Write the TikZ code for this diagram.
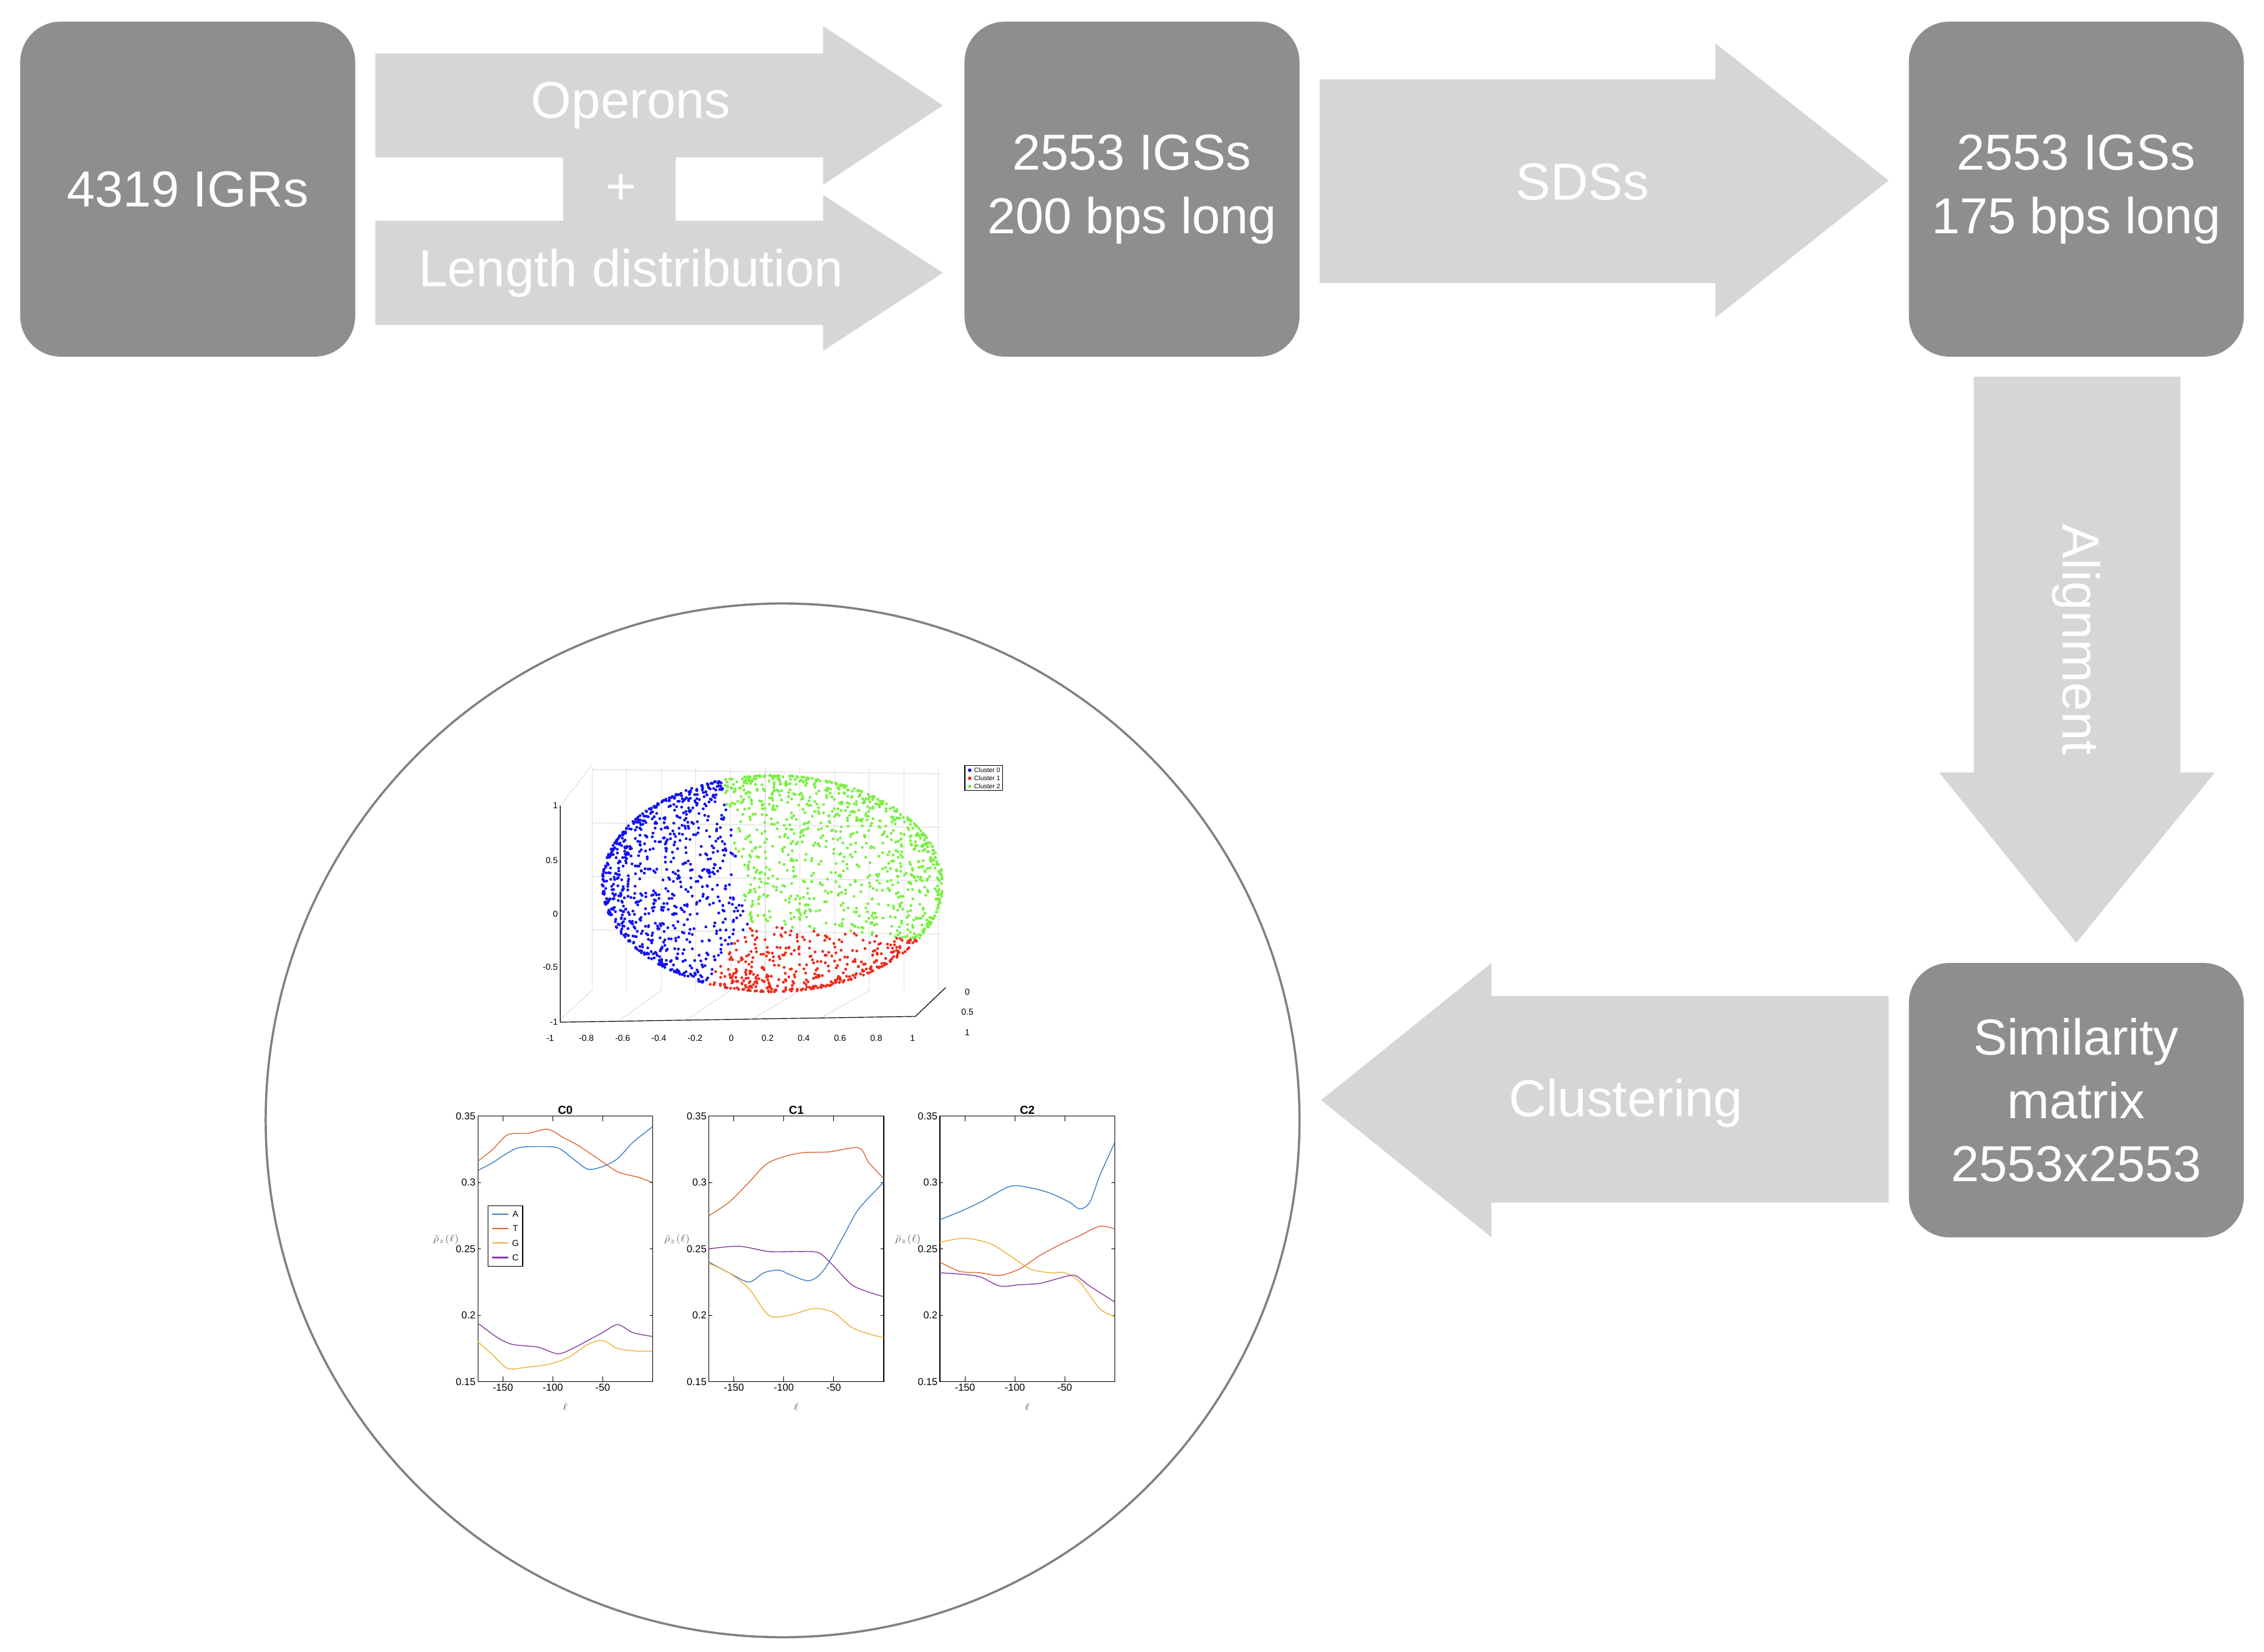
\documentclass[tikz,border=0pt]{standalone}
\usepackage{fontspec}
\setmainfont{Liberation Sans}
\setsansfont{Liberation Sans}
\definecolor{boxgray}{HTML}{8E8E8E}
\definecolor{arrowgray}{HTML}{D6D6D6}
\definecolor{cA}{HTML}{3C7FC8}
\definecolor{cT}{HTML}{DD6A3E}
\definecolor{cG}{HTML}{EDB23A}
\definecolor{cC}{HTML}{8A3FA0}
\definecolor{clr0}{HTML}{1010F0}
\definecolor{clr1}{HTML}{F02A1A}
\definecolor{clr2}{HTML}{78F040}
\tikzset{
  stepbox/.style={fill=boxgray, rounded corners=28pt, text=white, align=center,
    font=\fontsize{35}{44}\selectfont, inner sep=0pt},
  arrowtext/.style={text=white, font=\fontsize{36}{40}\selectfont},
  ticklbl/.style={font=\fontsize{7}{8}\selectfont, inner sep=1.5pt},
  curve/.style={line width=0.6pt},
}
% one panel of the composition profiles
\newcommand\rhopanel[6]{%
  \begin{scope}[shift={(#1,957)}, x=0.6914pt, y=920pt, shift={(0,-0.15)}]
    \draw[line width=0.6pt] (0,0.15) rectangle (175,0.35);
    \foreach \u/\l in {25/-150,75/-100,125/-50}{
      \draw[line width=0.4pt] (\u,0.15) -- (\u,0.154);
      \draw[line width=0.4pt] (\u,0.35) -- (\u,0.346);
      \node[ticklbl,below] at (\u,0.15) {\l};
    }
    \foreach \v in {0.15,0.2,0.25,0.3,0.35}{
      \draw[line width=0.4pt] (0,\v) -- (3,\v);
      \draw[line width=0.4pt] (175,\v) -- (172,\v);
      \node[ticklbl,left] at (0,\v) {\v};
    }
    \node[font=\fontsize{8}{9}\selectfont\bfseries, above, inner sep=1pt] at (87.5,0.35) {#2};
    \node[font=\fontsize{7}{8}\selectfont, text=gray!80!black] at (-32,0.257) {$\bar\rho_z(\ell)$};
    \node[font=\fontsize{7}{8}\selectfont, text=gray!80!black] at (87.5,0.131) {$\ell$};
    \draw[curve,cA] plot[smooth] coordinates {#3};
    \draw[curve,cT] plot[smooth] coordinates {#4};
    \draw[curve,cG] plot[smooth] coordinates {#5};
    \draw[curve,cC] plot[smooth] coordinates {#6};
  \end{scope}}
\begin{document}
\begin{tikzpicture}[x=1pt, y=-1pt]
  \useasboundingbox[fill=white] (0,0) rectangle (1568,1144);

  % Boxes
  \node[stepbox, minimum width=232pt, minimum height=232pt] (igr) at (130,131) {4319 IGRs};
  \node[stepbox, minimum width=232pt, minimum height=232pt] (igs200) at (784,131) {2553 IGSs\\200 bps long};
  \node[stepbox, minimum width=232pt, minimum height=232pt] (igs175) at (1438,131) {2553 IGSs\\175 bps long};
  \node[stepbox, minimum width=232pt, minimum height=190pt] (simmat) at (1438,762) {Similarity\\matrix\\2553x2553};

  % Arrows
  \fill[arrowgray] (260,37) -- (570,37) -- (570,18) -- (653,73) -- (570,128) -- (570,109)
    -- (468,109) -- (468,153) -- (570,153) -- (570,135) -- (653,189) -- (570,243) -- (570,225)
    -- (260,225) -- (260,153) -- (390,153) -- (390,109) -- (260,109) -- cycle;
  \node[arrowtext] (operons) at (437,73) {Operons};
  \node[arrowtext] (plus) at (430,131) {+};
  \node[arrowtext] (lendist) at (437,189) {Length distribution};

  \fill[arrowgray] (914,55) -- (1188,55) -- (1188,30) -- (1308,125) -- (1188,220) -- (1188,196) -- (914,196) -- cycle;
  \node[arrowtext] (sds) at (1096,126) {SDSs};

  \fill[arrowgray] (1367,261) -- (1510,261) -- (1510,535) -- (1534,535) -- (1438,653) -- (1343,535) -- (1367,535) -- cycle;
  \node[arrowtext, rotate=-90] (align) at (1438,443) {Alignment};

  \fill[arrowgray] (1308,690) -- (1033,690) -- (1033,667) -- (915,762) -- (1033,857) -- (1033,833) -- (1308,833) -- cycle;
  \node[arrowtext] (clust) at (1126,764) {Clustering};

  % Result circle
  \draw[gray, line width=1.5pt] (542,776) circle (358);

  % 3D scatter: axes and grid
  \begin{scope}[gray!25, line width=0.5pt]
    \foreach \gx in {410,434,...,652} \draw (\gx,532) -- (\gx,686);
    \foreach \gy in {558,595,632,669} \draw (410,\gy-25) -- (652,\gy-22);
    \foreach \gx/\fx in {410/388,458/430,506/476,554/521,602/567,652/632} \draw (\gx,686) -- (\fx,706);
    \draw (388,558) -- (410,530);
  \end{scope}
  \draw[line width=0.5pt] (388,558) -- (388,708) -- (634,704) -- (655,684);
  \foreach \v/\yy in {1/558,0.5/596,0/633,-0.5/670,-1/708}
    \node[ticklbl, left, font=\fontsize{6}{7}\selectfont] at (388,\yy) {\v};
  \foreach \v [count=\k from 0] in {-1,-0.8,-0.6,-0.4,-0.2,0,0.2,0.4,0.6,0.8,1}
    \node[ticklbl, font=\fontsize{6}{7}\selectfont] at (381+25.1*\k,719) {\v};
  \foreach \v/\yy in {0/687,0.5/701,1/715}
    \node[ticklbl, font=\fontsize{6}{7}\selectfont] at (670,\yy) {\v};
  \pgfmathsetseed{7}
  \foreach \i in {1,...,2200}{
    \pgfmathsetmacro\ang{360*rnd}
    \pgfmathsetmacro\rr{sqrt(1-rnd^2)}
    \pgfmathsetmacro\px{535+118*\rr*cos(\ang)}
    \pgfmathsetmacro\py{612-75*\rr*sin(\ang)}
    \pgfmathsetmacro\bb{atan2(640-\py,\px-518)}
    \pgfmathtruncatemacro\cc{ifthenelse(\bb>100 || \bb<-125,0,ifthenelse(\bb<-5,1,2))}
    \fill[clr\cc] (\px,\py) circle (1.0);
  }
  \node[draw, line width=0.5pt, fill=white, align=left, inner sep=1.5pt,
    font=\fontsize{4.5}{5.5}\selectfont, anchor=north west] (legend) at (668,530)
    {\textcolor{clr0}{$\bullet$} Cluster 0\\ \textcolor{clr1}{$\bullet$} Cluster 1\\ \textcolor{clr2}{$\bullet$} Cluster 2};

  % Composition profiles
  \rhopanel{331}{C0}
    {(0,.309)(15,.315)(25,.32)(40,.326)(60,.327)(80,.326)(95,.318)(110,.31)(125,.312)(140,.318)(155,.33)(175,.342)}
    {(0,.316)(15,.325)(30,.336)(50,.337)(70,.34)(85,.334)(100,.328)(120,.318)(140,.308)(160,.304)(175,.3)}
    {(0,.18)(15,.17)(30,.16)(50,.161)(70,.163)(90,.168)(110,.178)(125,.181)(140,.175)(160,.173)(175,.173)}
    {(0,.194)(20,.183)(35,.178)(60,.176)(80,.171)(95,.175)(110,.181)(125,.187)(140,.193)(155,.187)(175,.184)}
  \rhopanel{491}{C1}
    {(0,.24)(20,.232)(40,.225)(55,.232)(70,.234)(80,.231)(100,.226)(115,.234)(135,.26)(150,.28)(175,.3)}
    {(0,.275)(20,.285)(40,.3)(60,.315)(90,.322)(120,.323)(150,.326)(160,.315)(175,.303)}
    {(0,.239)(20,.232)(40,.22)(60,.2)(80,.2)(105,.205)(125,.202)(145,.19)(175,.183)}
    {(0,.25)(30,.252)(60,.248)(90,.248)(110,.247)(125,.237)(145,.222)(175,.214)}
  \rhopanel{651}{C2}
    {(0,.272)(20,.278)(40,.285)(70,.297)(90,.296)(110,.292)(130,.285)(140,.28)(150,.285)(160,.305)(175,.33)}
    {(0,.24)(20,.233)(40,.232)(60,.23)(80,.235)(100,.245)(120,.253)(140,.26)(160,.267)(175,.265)}
    {(0,.255)(25,.258)(50,.254)(70,.245)(90,.235)(110,.232)(125,.232)(140,.225)(160,.205)(175,.199)}
    {(0,.232)(20,.231)(40,.229)(60,.222)(80,.223)(100,.224)(120,.228)(135,.23)(150,.222)(175,.21)}

  % Legend of the first panel
  \draw[line width=0.5pt, fill=white] (338,835) rectangle (362,877);
  \foreach \n/\lc [count=\k from 0] in {A/cA,T/cT,G/cG,C/cC}{
    \draw[color=\lc, line width=1pt] (341,841+10*\k) -- (352,841+10*\k);
    \node[font=\fontsize{6}{7}\selectfont, inner sep=0pt] at (357,841+10*\k) {\n};
  }
\end{tikzpicture}
\end{document}
